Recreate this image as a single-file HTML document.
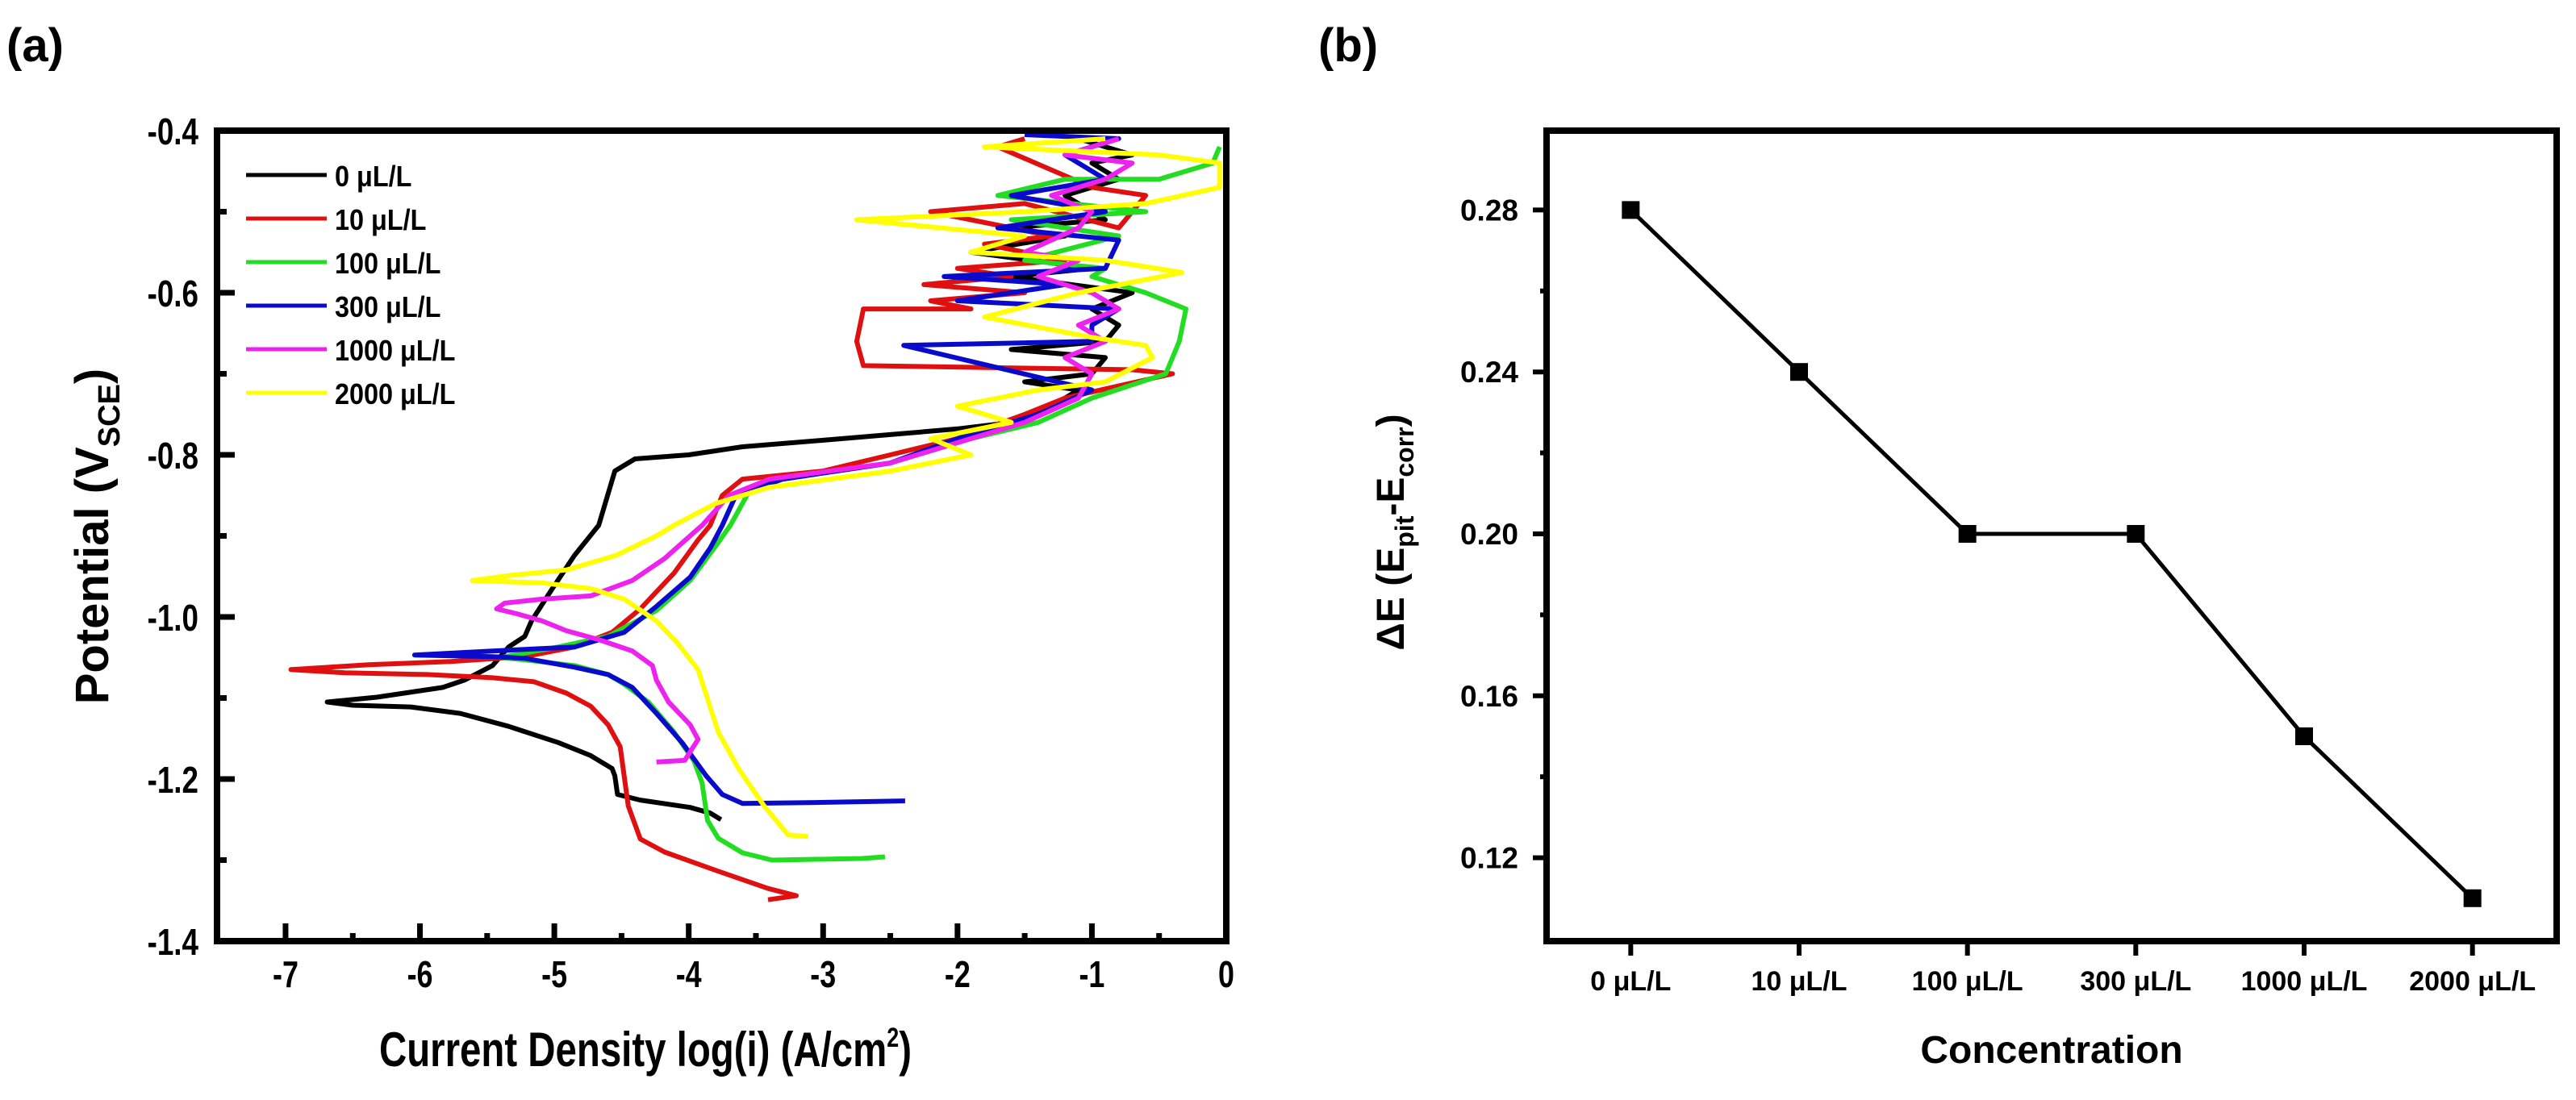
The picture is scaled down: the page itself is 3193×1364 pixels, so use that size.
<!DOCTYPE html>
<html><head><meta charset="utf-8"><style>
html,body{margin:0;padding:0;background:#fff;}
svg{display:block;font-family:"Liberation Sans",Arial,sans-serif;font-weight:bold;}
</style></head><body>
<svg id="fig" width="3193" height="1364" viewBox="0 0 3193 1364" xmlns="http://www.w3.org/2000/svg">
<g id="pa"></g>
<g id="pb"></g>
</svg>
<script>
// ---------- Panel (a) data ----------
const seriesNames = ["0 μL/L","10 μL/L","100 μL/L","300 μL/L","1000 μL/L","2000 μL/L"];
const seriesColors = ["#000000","#e01010","#22dd22","#0a0acc","#ee22ee","#ffff00"];
const xTicksA = [-7,-6,-5,-4,-3,-2,-1,0];
const yTicksA = [-0.4,-0.6,-0.8,-1.0,-1.2,-1.4];
const curve0 = [[-3.76,-1.25],[-3.84,-1.242],[-3.99,-1.235],[-4.36,-1.226],[-4.53,-1.219],[-4.55,-1.196],[-4.57,-1.187],[-4.73,-1.171],[-4.97,-1.155],[-5.34,-1.135],[-5.7,-1.119],[-6.07,-1.111],[-6.5,-1.109],[-6.69,-1.105],[-6.32,-1.099],[-5.83,-1.087],[-5.67,-1.078],[-5.46,-1.06],[-5.34,-1.037],[-5.22,-1.024],[-5.17,-1.005],[-5.03,-0.969],[-4.85,-0.924],[-4.67,-0.887],[-4.55,-0.82],[-4.4,-0.805],[-4.0,-0.80],[-3.6,-0.79],[-3.0,-0.782],[-2.5,-0.775],[-2.0,-0.768],[-1.6,-0.76],[-1.3,-0.74],[-1.1,-0.72],[-1.5,-0.71],[-1.0,-0.70],[-0.9,-0.68],[-1.6,-0.67],[-0.9,-0.66],[-0.8,-0.64],[-1.0,-0.62],[-0.7,-0.6],[-1.6,-0.58],[-1.0,-0.57],[-1.9,-0.55],[-1.2,-0.53],[-1.6,-0.52],[-0.9,-0.51],[-1.2,-0.48],[-0.8,-0.46],[-1.0,-0.44],[-0.7,-0.43],[-1.1,-0.41]];
const curve10 = [[-3.41,-1.349],[-3.2,-1.344],[-3.41,-1.335],[-3.81,-1.312],[-4.18,-1.29],[-4.36,-1.274],[-4.45,-1.233],[-4.51,-1.16],[-4.6,-1.133],[-4.73,-1.11],[-4.91,-1.094],[-5.15,-1.08],[-5.46,-1.075],[-5.95,-1.071],[-6.56,-1.069],[-6.96,-1.065],[-6.38,-1.059],[-5.77,-1.055],[-5.22,-1.049],[-4.85,-1.037],[-4.57,-1.019],[-4.36,-0.99],[-4.11,-0.946],[-3.93,-0.905],[-3.84,-0.887],[-3.75,-0.85],[-3.6,-0.83],[-3.0,-0.82],[-2.5,-0.80],[-2.0,-0.78],[-1.5,-0.75],[-1.2,-0.73],[-0.4,-0.70],[-0.7,-0.695],[-2.7,-0.69],[-2.75,-0.66],[-2.7,-0.62],[-1.9,-0.62],[-2.2,-0.61],[-1.5,-0.60],[-2.25,-0.59],[-1.6,-0.58],[-2.0,-0.57],[-1.2,-0.56],[-1.8,-0.54],[-1.3,-0.53],[-2.2,-0.50],[-1.5,-0.49],[-0.8,-0.52],[-0.6,-0.48],[-1.0,-0.47],[-1.7,-0.42],[-1.5,-0.41]];
const curve100 = [[-2.54,-1.296],[-2.71,-1.298],[-3.38,-1.3],[-3.6,-1.291],[-3.78,-1.273],[-3.86,-1.251],[-3.9,-1.205],[-3.96,-1.178],[-4.11,-1.142],[-4.3,-1.105],[-4.48,-1.083],[-4.6,-1.071],[-4.85,-1.06],[-5.22,-1.053],[-5.4,-1.05],[-4.97,-1.037],[-4.6,-1.024],[-4.24,-0.992],[-3.99,-0.955],[-3.81,-0.915],[-3.69,-0.887],[-3.55,-0.845],[-3.3,-0.83],[-2.5,-0.81],[-1.9,-0.78],[-1.4,-0.76],[-1.0,-0.73],[-0.45,-0.70],[-0.4,-0.68],[-0.35,-0.66],[-0.3,-0.62],[-0.6,-0.60],[-1.0,-0.58],[-0.9,-0.57],[-1.5,-0.56],[-0.8,-0.53],[-1.6,-0.51],[-0.6,-0.50],[-1.7,-0.48],[-1.2,-0.46],[-0.5,-0.46],[-0.1,-0.44],[-0.05,-0.42]];
const curve300 = [[-2.39,-1.227],[-3.05,-1.229],[-3.6,-1.23],[-3.75,-1.219],[-3.87,-1.196],[-4.05,-1.155],[-4.24,-1.119],[-4.42,-1.087],[-4.6,-1.071],[-4.85,-1.062],[-5.22,-1.051],[-5.46,-1.049],[-6.04,-1.047],[-5.46,-1.042],[-4.85,-1.037],[-4.48,-1.019],[-4.24,-0.987],[-3.99,-0.951],[-3.84,-0.915],[-3.75,-0.887],[-3.65,-0.85],[-3.3,-0.83],[-2.5,-0.81],[-2.0,-0.78],[-1.4,-0.75],[-1.0,-0.72],[-2.4,-0.665],[-1.0,-0.66],[-1.0,-0.64],[-0.8,-0.62],[-2.0,-0.61],[-1.2,-0.59],[-2.1,-0.58],[-0.9,-0.57],[-0.8,-0.535],[-1.7,-0.52],[-0.9,-0.50],[-1.6,-0.48],[-0.9,-0.46],[-1.2,-0.43],[-0.8,-0.41],[-1.5,-0.405]];
const curve1000 = [[-4.24,-1.179],[-4.03,-1.177],[-3.93,-1.151],[-3.99,-1.133],[-4.15,-1.105],[-4.24,-1.078],[-4.27,-1.06],[-4.42,-1.042],[-4.67,-1.028],[-4.91,-1.017],[-5.09,-1.005],[-5.28,-0.996],[-5.43,-0.99],[-5.37,-0.983],[-5.09,-0.978],[-4.73,-0.974],[-4.42,-0.955],[-4.18,-0.928],[-3.99,-0.9],[-3.9,-0.887],[-3.7,-0.85],[-3.4,-0.83],[-2.5,-0.81],[-1.9,-0.78],[-1.5,-0.76],[-1.1,-0.73],[-1.0,-0.70],[-1.2,-0.68],[-0.9,-0.66],[-1.1,-0.64],[-0.8,-0.62],[-1.0,-0.60],[-1.4,-0.58],[-1.1,-0.56],[-1.5,-0.55],[-1.1,-0.52],[-1.0,-0.50],[-1.3,-0.48],[-0.9,-0.46],[-0.7,-0.44],[-1.2,-0.43],[-0.8,-0.41]];
const curve2000 = [[-3.11,-1.271],[-3.26,-1.269],[-3.44,-1.233],[-3.63,-1.187],[-3.78,-1.142],[-3.87,-1.096],[-3.93,-1.065],[-4.08,-1.033],[-4.24,-1.005],[-4.48,-0.978],[-4.73,-0.965],[-5.09,-0.958],[-5.61,-0.955],[-5.34,-0.949],[-4.91,-0.942],[-4.54,-0.924],[-4.24,-0.9],[-4.11,-0.887],[-3.8,-0.86],[-3.4,-0.84],[-2.5,-0.82],[-1.9,-0.80],[-2.2,-0.78],[-1.6,-0.76],[-2.0,-0.74],[-1.4,-0.72],[-0.9,-0.71],[-0.55,-0.68],[-0.6,-0.665],[-1.0,-0.655],[-1.8,-0.63],[-1.1,-0.60],[-0.33,-0.575],[-0.9,-0.56],[-1.9,-0.55],[-1.5,-0.53],[-2.75,-0.51],[-1.5,-0.50],[-0.6,-0.49],[-0.05,-0.47],[-0.05,-0.44],[-0.5,-0.43],[-1.8,-0.42],[-0.9,-0.41]];

// ---------- Panel (b) data ----------
const categoriesB = ["0 μL/L","10 μL/L","100 μL/L","300 μL/L","1000 μL/L","2000 μL/L"];
const deltaE = [0.28,0.24,0.20,0.20,0.15,0.11];
const yTicksB = [0.12,0.16,0.20,0.24,0.28];

const NS="http://www.w3.org/2000/svg";
function mk(tag,attrs,parent){const e=document.createElementNS(NS,tag);for(const k in attrs)e.setAttribute(k,attrs[k]);parent.appendChild(e);return e;}

// ===== Panel A =====
const pa=document.getElementById('pa');
const A={l:269,r:1520,t:162,b:1167,xmin:-7.51,xmax:0,ymin:-1.4,ymax:-0.4};
const ax=v=>A.l+(v-A.xmin)/(A.xmax-A.xmin)*(A.r-A.l);
const ay=v=>A.b-(v-A.ymin)/(A.ymax-A.ymin)*(A.b-A.t);
const curves=[curve0,curve10,curve100,curve300,curve1000,curve2000];
[0,1,2,3,4,5].forEach(i=>{
  const p=mk('polyline',{points:curves[i].map(d=>ax(d[0]).toFixed(1)+','+ay(d[1]).toFixed(1)).join(' '),fill:'none',stroke:seriesColors[i],'stroke-width':6,'stroke-linejoin':'round'},pa);
  
  
});
const boxA=mk('rect',{x:A.l,y:A.t,width:A.r-A.l,height:A.b-A.t,fill:'none',stroke:'#000','stroke-width':8},pa);


for(let v=-7;v<=0;v+=0.5){
  const major=Number.isInteger(v);
  const t=mk('line',{x1:ax(v),x2:ax(v),y1:A.b,y2:A.b-(major?22:10),stroke:'#000','stroke-width':7},pa);
  
  
}
xTicksA.forEach(v=>{
  const t=mk('text',{x:ax(v),y:1224,'font-size':46,'text-anchor':'middle',transform:`translate(${ax(v)},0) scale(0.78,1) translate(${-ax(v)},0)`},pa);
  t.textContent=String(v);
  
  
});
for(let v=-1.4;v<=-0.399;v+=0.1){
  const major=Math.abs(Math.round(v*10)%2)===0;
  const t=mk('line',{x1:A.l,x2:A.l+(major?22:12),y1:ay(v),y2:ay(v),stroke:'#000','stroke-width':7},pa);
  
  
}
yTicksA.forEach(v=>{
  const t=mk('text',{x:246,y:ay(v)+17,'font-size':46,'text-anchor':'end',transform:`translate(246,0) scale(0.8,1) translate(-246,0)`},pa);
  t.textContent=v.toFixed(1);
  
  
});
seriesNames.forEach((n,i)=>{
  const y=217+i*54;
  const l=mk('line',{x1:305,x2:405,y1:y,y2:y,stroke:seriesColors[i],'stroke-width':5},pa);
  
  
  const t=mk('text',{x:415,y:y+14,'font-size':36,transform:`translate(415,0) scale(0.9,1) translate(-415,0)`},pa);
  t.textContent=n;
  
  
});
let tt=mk('text',{x:470,y:1322,'font-size':60,textLength:660,lengthAdjust:'spacingAndGlyphs'},pa);
tt.innerHTML='Current Density log(i) (A/cm<tspan dy="-24" font-size="34">2</tspan><tspan dy="24">)</tspan>';


tt=mk('text',{x:0,y:0,'font-size':58,'text-anchor':'middle',transform:'translate(134,665) rotate(-90)'},pa);
tt.innerHTML='Potential (V<tspan dy="14" font-size="38">SCE</tspan><tspan dy="-14">)</tspan>';


tt=mk('text',{x:8,y:76,'font-size':58},pa);
tt.textContent='(a)';



// ===== Panel B =====
const pb=document.getElementById('pb');
const B={l:1917,r:3169,t:162,b:1167,ymin:0.0994,ymax:0.2996};
const bx=i=>B.l+(i+0.5)/categoriesB.length*(B.r-B.l);
const by=v=>B.b-(v-B.ymin)/(B.ymax-B.ymin)*(B.b-B.t);
const lineB=mk('polyline',{points:deltaE.map((v,i)=>bx(i).toFixed(1)+','+by(v).toFixed(1)).join(' '),fill:'none',stroke:'#000','stroke-width':5},pb);


deltaE.forEach((v,i)=>{
  const m=mk('rect',{x:bx(i)-11,y:by(v)-11,width:22,height:22,fill:'#000'},pb);
  
  
});
const boxB=mk('rect',{x:B.l,y:B.t,width:B.r-B.l,height:B.b-B.t,fill:'none',stroke:'#000','stroke-width':8},pb);


for(let k=0;k<9;k++){
  const v=0.12+k*0.02;
  const major=k%2===0;
  const t=mk('line',{x1:B.l,x2:B.l-(major?17:8),y1:by(v),y2:by(v),stroke:'#000','stroke-width':6},pb);
  
  
}
yTicksB.forEach(v=>{
  const t=mk('text',{x:1882,y:by(v)+13,'font-size':37,'text-anchor':'end'},pb);
  t.textContent=v.toFixed(2);
  
  
});
categoriesB.forEach((c,i)=>{
  const t=mk('line',{x1:bx(i),x2:bx(i),y1:B.b,y2:B.b+18,stroke:'#000','stroke-width':6},pb);
  
  
  const l=mk('text',{x:bx(i),y:1228,'font-size':34,'text-anchor':'middle'},pb);
  l.textContent=c;
  
  
});
tt=mk('text',{x:2543,y:1318,'font-size':48,'text-anchor':'middle'},pb);
tt.textContent='Concentration';


tt=mk('text',{x:0,y:0,'font-size':48,'text-anchor':'middle',transform:'translate(1740,660) rotate(-90)'},pb);
tt.innerHTML='ΔE (E<tspan dy="12" font-size="32">pit</tspan><tspan dy="-12">-E</tspan><tspan dy="12" font-size="32">corr</tspan><tspan dy="-12">)</tspan>';


tt=mk('text',{x:1634,y:76,'font-size':58},pb);
tt.textContent='(b)';


</script>
</body></html>
